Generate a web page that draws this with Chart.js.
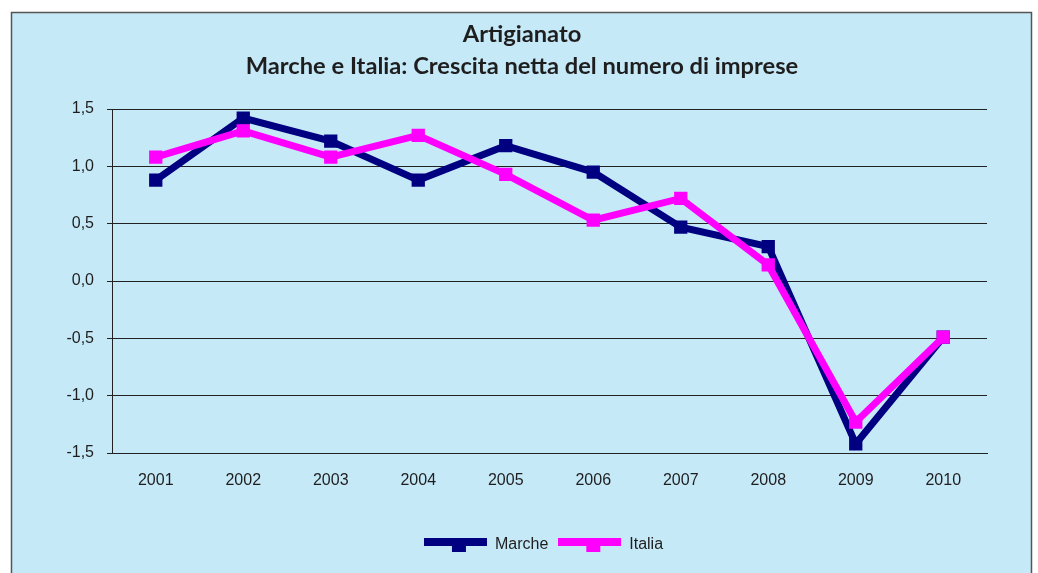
<!DOCTYPE html>
<html>
<head>
<meta charset="utf-8">
<script src="https://cdn.jsdelivr.net/npm/chart.js@4.4.1/dist/chart.umd.min.js"></script>
<style>
html,body{margin:0;padding:0;background:#fff;overflow:hidden}
#wrap{position:absolute;left:0;top:0;width:1038px;height:573px}
</style>
</head>
<body>
<div id="wrap"><canvas id="c" width="1038" height="573"></canvas></div>
<script>
// ---- data ----
const years = ['2001','2002','2003','2004','2005','2006','2007','2008','2009','2010'];
const marche = [0.88, 1.42, 1.22, 0.88, 1.18, 0.95, 0.47, 0.30, -1.42, -0.49];
const italia = [1.08, 1.31, 1.08, 1.27, 0.93, 0.53, 0.72, 0.14, -1.23, -0.49];
const yTickLabels = ['-1,5','-1,0','-0,5','0,0','0,5','1,0','1,5'];
const seriesNames = ['Marche','Italia'];
const titleLines = ['Artigianato','Marche e Italia: Crescita netta del numero di imprese'];

// ---- styles ----
const NAVY = '#000080';
const MAGENTA = '#FF00FF';
const BG = '#C6E9F8';

function legendSample(color){
  const cv = document.createElement('canvas');
  cv.width = 63; cv.height = 14;
  const g = cv.getContext('2d');
  g.fillStyle = color;
  g.fillRect(0, 0, 63, 8);
  g.fillRect(28, 0, 14, 14);
  return cv;
}
const samples = [legendSample(NAVY), legendSample(MAGENTA)];

const frame = {
  id: 'frame',
  beforeDraw(chart){
    const ctx = chart.ctx;
    ctx.save();
    ctx.fillStyle = '#ffffff';
    ctx.fillRect(0, 0, chart.width, chart.height);
    ctx.fillStyle = BG;
    ctx.fillRect(11, 12, 1021, 600);
    ctx.strokeStyle = '#555';
    ctx.lineWidth = 1.5;
    ctx.strokeRect(11.5, 12.5, 1020, 600);
    ctx.restore();
  },
  afterLayout(chart){
    const lg = chart.legend;
    if (lg) { lg.left += 21.5; lg.right += 21.5; lg.top += 2; lg.bottom += 2; }
  }
};

new Chart(document.getElementById('c'), {
  type: 'line',
  data: {
    labels: years,
    datasets: [
      { label: seriesNames[0], data: marche, borderColor: NAVY, backgroundColor: NAVY,
        borderWidth: 7, pointStyle: 'rect', pointRadius: 9.4, pointBorderWidth: 0,
        pointBackgroundColor: NAVY, tension: 0, order: 2 },
      { label: seriesNames[1], data: italia, borderColor: MAGENTA, backgroundColor: MAGENTA,
        borderWidth: 7, pointStyle: 'rect', pointRadius: 9.4, pointBorderWidth: 0,
        pointBackgroundColor: MAGENTA, tension: 0, order: 1 }
    ]
  },
  options: {
    responsive: false,
    animation: false,
    devicePixelRatio: 1,
    layout: { padding: { top: 12, left: 57, right: 51, bottom: 12 } },
    plugins: {
      title: {
        display: true,
        text: titleLines,
        color: '#1e1e1e',
        font: { family: 'Lato', weight: 'bold', size: 23.7, lineHeight: '32px' },
        padding: { top: 6.4, bottom: 26.6 }
      },
      legend: {
        display: true,
        position: 'bottom',
        labels: {
          usePointStyle: true,
          pointStyleWidth: 63,
          padding: 10,
          color: '#1e1e1e',
          font: { family: 'Liberation Sans', size: 16 },
          generateLabels: (chart) => chart.data.datasets.map((ds, i) => ({
            text: ds.label, pointStyle: samples[i], fillStyle: ds.borderColor,
            strokeStyle: ds.borderColor, lineWidth: 0, hidden: false, datasetIndex: i,
            fontColor: '#1e1e1e'
          }))
        }
      },
      tooltip: { enabled: false }
    },
    scales: {
      x: {
        offset: true,
        grid: { display: false, drawTicks: false },
        border: { display: true, color: '#222', width: 1 },
        ticks: { color: '#1e1e1e', font: { family: 'Liberation Sans', size: 16 }, padding: 18, maxRotation: 0 },
        afterFit: (s) => { s.height = 72; }
      },
      y: {
        min: -1.5, max: 1.5,
        ticks: {
          stepSize: 0.5,
          color: '#1e1e1e',
          font: { family: 'Liberation Sans', size: 16 },
          padding: 13,
          callback: (v, i) => yTickLabels[i]
        },
        grid: { color: '#222', lineWidth: 1, drawTicks: true, tickLength: 5 },
        border: { display: true, color: '#222', width: 1 },
        afterFit: (s) => { s.width = 55; }
      }
    }
  },
  plugins: [frame]
});
</script>
</body>
</html>
